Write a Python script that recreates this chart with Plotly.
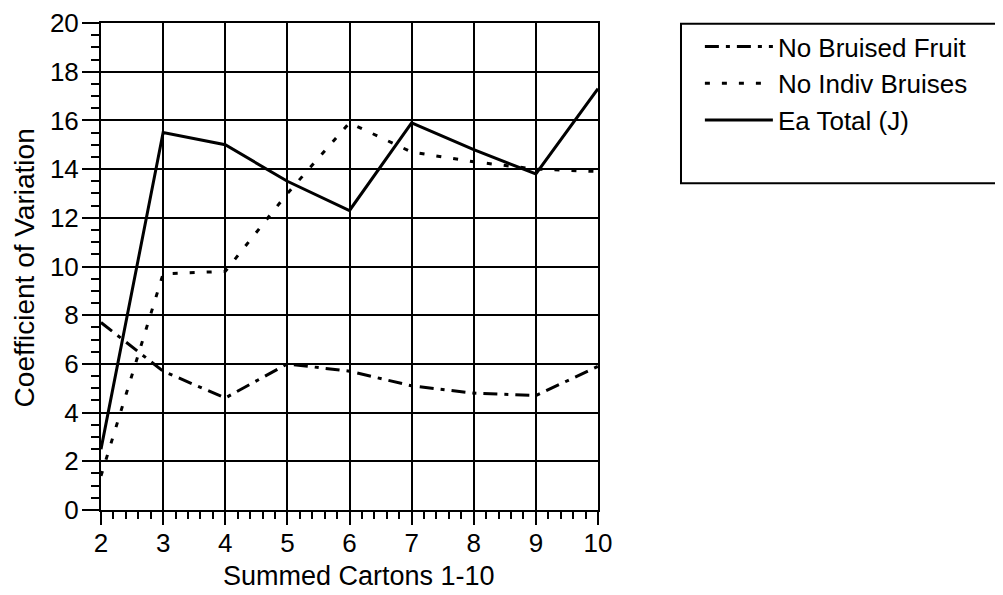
import plotly.graph_objects as go

# summed cartons (x) and coefficient of variation for each series
cartons = [2, 3, 4, 5, 6, 7, 8, 9, 10]
no_bruised_fruit = [7.7, 5.7, 4.6, 6.0, 5.7, 5.1, 4.8, 4.7, 5.9]
no_indiv_bruises = [1.4, 9.7, 9.8, 13.0, 15.9, 14.7, 14.3, 14.0, 13.9]
ea_total = [2.5, 15.5, 15.0, 13.5, 12.3, 15.9, 14.8, 13.8, 17.3]

font = "Liberation Sans, Arial, Helvetica, sans-serif"

fig = go.Figure()
fig.add_trace(go.Scatter(x=cartons, y=no_bruised_fruit, mode="lines", name="No Bruised Fruit",
                         line=dict(color="black", width=3, dash="14px,7px,4px,7px")))
fig.add_trace(go.Scatter(x=cartons, y=no_indiv_bruises, mode="lines", name="No Indiv Bruises",
                         line=dict(color="black", width=3, dash="5px,12px")))
fig.add_trace(go.Scatter(x=cartons, y=ea_total, mode="lines", name="Ea Total (J)",
                         line=dict(color="black", width=3)))

fig.update_xaxes(
    range=[2, 10], dtick=1, showgrid=True, gridcolor="black", gridwidth=2,
    showline=True, linecolor="black", linewidth=2, mirror=True, zeroline=False,
    ticks="outside", ticklen=13, tickwidth=2, tickcolor="black",
    minor=dict(dtick=0.2, ticks="outside", ticklen=7, tickwidth=2, tickcolor="black", showgrid=False),
    tickfont=dict(size=26, color="black", family=font), ticklabelstandoff=-4,
    automargin=False,
)
fig.update_yaxes(
    range=[0, 20], dtick=2, showgrid=True, gridcolor="black", gridwidth=2,
    showline=True, linecolor="black", linewidth=2, mirror=True, zeroline=False,
    ticks="outside", ticklen=17, tickwidth=2, tickcolor="black",
    minor=dict(dtick=0.5, ticks="outside", ticklen=8, tickwidth=2, tickcolor="black", showgrid=False),
    tickfont=dict(size=26, color="black", family=font), ticklabelstandoff=-2,
    automargin=False,
)

# axis titles
fig.add_annotation(text="Summed Cartons 1-10", xref="paper", yref="paper", x=0.52, y=-0.135,
                   xanchor="center", yanchor="middle", showarrow=False,
                   font=dict(size=27, color="black", family=font))
fig.add_annotation(text="Coefficient of Variation", xref="paper", yref="paper", x=-0.152, y=0.497,
                   xanchor="center", yanchor="middle", showarrow=False, textangle=-90,
                   font=dict(size=28, color="black", family=font))

# legend frame (runs past the right edge, as in the original)
fig.add_shape(type="rect", xref="paper", yref="paper", x0=1.167, x1=1.85, y0=0.671, y1=0.9985,
              line=dict(color="black", width=2))

# the page body adds an 8px margin, so the figure is offset by that much
fig.update_layout(
    width=1003, height=595,
    margin=dict(l=93, r=413, t=15, b=93),
    plot_bgcolor="white", paper_bgcolor="white",
    font=dict(family=font, color="black"),
    showlegend=True,
    legend=dict(x=1.205, y=1.0, xanchor="left", yanchor="top", borderwidth=0,
                bgcolor="rgba(0,0,0,0)", font=dict(size=26, color="black", family=font),
                itemwidth=68, tracegroupgap=0),
)

fig.write_html("out.html")
